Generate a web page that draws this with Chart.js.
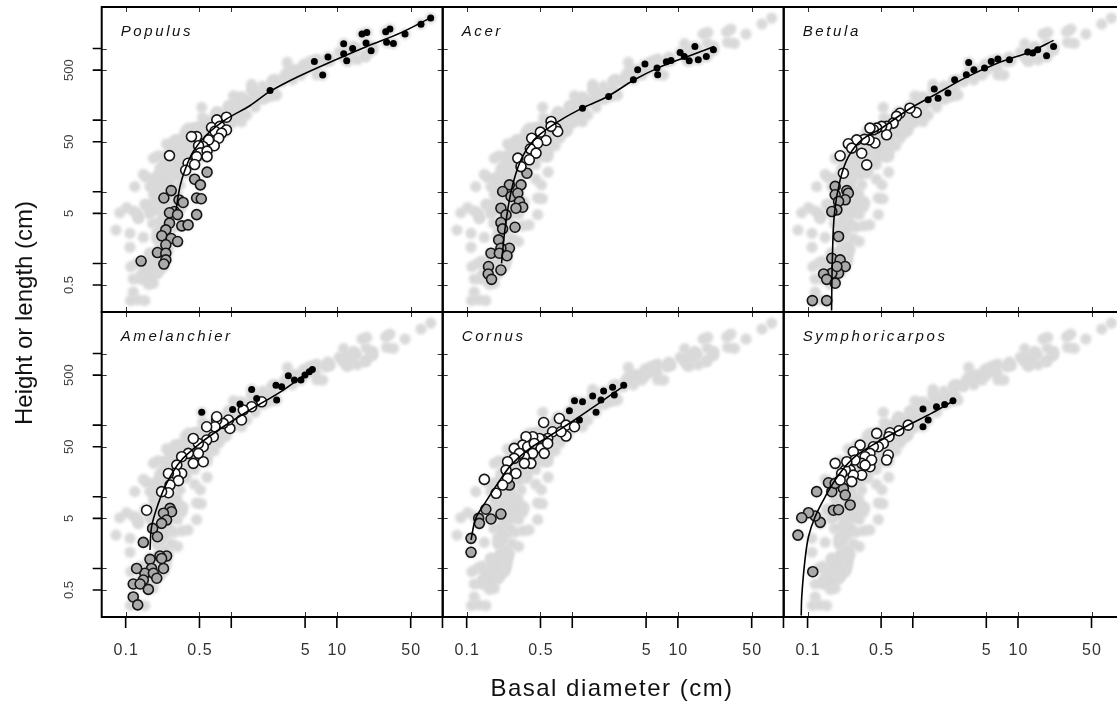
<!DOCTYPE html>
<html>
<head>
<meta charset="utf-8">
<script src="https://cdn.jsdelivr.net/npm/chart.js@4.4.1/dist/chart.umd.min.js"></script>
<style>
  html, body { margin: 0; padding: 0; background: #fff; }
  #wrap { position: relative; width: 1117px; height: 707px; overflow: hidden; }
  #wrap canvas { position: absolute; left: 0; top: 0; }
</style>
</head>
<body>
<div id="wrap"></div>
<script>
// axis ticks (log-log panels)
const xTicks = [0.1, 0.5, 1, 5, 10, 50, 100];
const xTickLabels = ["0.1", "0.5", "", "5", "10", "50", ""];
const yTicks = [0.5, 1, 5, 10, 50, 100, 500, 1000];
const yTickLabels = ["0.5", "", "5", "", "50", "", "500", ""];

const speciesNames = ["Populus", "Acer", "Betula", "Amelanchier", "Cornus", "Symphoricarpos"];

// [basal diameter cm, height cm]
const populusGrey = [[0.59,18.8],[0.45,15.0],[0.51,12.5],[0.47,8.2],[0.52,8.0],[0.47,4.8],[0.27,10.4],[0.23,8.2],[0.32,7.7],[0.35,7.1],[0.29,5.3],[0.26,5.1],[0.31,4.8],[0.26,3.65],[0.34,3.35],[0.39,3.45],[0.24,2.94],[0.22,2.43],[0.27,2.23],[0.31,2.02],[0.24,1.82],[0.20,1.42],[0.24,1.39],[0.24,1.12],[0.23,0.98],[0.14,1.08]];
const populusWhite = [[0.73,101],[0.90,110],[0.65,79],[0.78,82],[0.70,70],[0.90,73],[0.81,66],[0.76,56],[0.69,44],[0.61,53],[0.54,43],[0.47,59],[0.42,59],[0.49,44],[0.51,35],[0.59,37],[0.59,31],[0.47,31],[0.39,25],[0.37,20],[0.45,24],[0.26,32]];
const populusBlack = [[2.33,260],[6.12,661],[7.34,426],[8.24,760],[12.4,675],[11.6,845],[11.6,1170],[14.1,1005],[17.3,1590],[19.2,1680],[18.9,1190],[21.1,931],[29.0,1710],[31.8,1870],[29.6,1220],[34.3,1180],[44.2,1590],[62.6,2190],[77.3,2660]];
const populusFit = [[0.30,5.6],[0.327,11.9],[0.365,20.3],[0.437,36.6],[0.585,62.5],[0.904,104],[1.50,159],[2.33,252],[4.48,417],[9.26,675],[19.2,1070],[39.6,1640],[76,2660]];

const acerGrey = [[0.372,18.2],[0.254,12.5],[0.219,10.1],[0.327,12.5],[0.263,8.6],[0.305,9.57],[0.316,7.3],[0.339,6.1],[0.293,5.9],[0.211,5.9],[0.236,4.76],[0.211,3.72],[0.219,3.04],[0.287,3.2],[0.201,2.13],[0.254,1.63],[0.211,1.63],[0.170,1.39],[0.204,1.39],[0.241,1.28],[0.161,0.906],[0.160,0.714],[0.172,0.60],[0.211,0.81]];
const acerWhite = [[0.630,96],[0.702,77],[0.728,69.5],[0.630,82],[0.499,68],[0.564,52],[0.413,56],[0.470,47.7],[0.401,39.8],[0.454,34.7],[0.392,28],[0.305,29.5],[0.327,22.5]];
const acerBlack = [[1.25,147],[2.21,214],[3.79,366],[4.16,506],[4.88,606],[6.35,533],[6.44,430],[7.78,653],[8.61,682],[10.5,883],[11.5,776],[12.8,675],[14.5,1070],[15.6,697],[18.6,776],[21.7,962]];
const acerFit = [[0.214,1.0],[0.228,2.64],[0.254,7.73],[0.293,18.2],[0.352,34.6],[0.470,59.3],[0.782,101],[1.30,152],[2.16,214],[3.87,366],[6.44,533],[12.4,776],[22.1,1070]];

const betulaGrey = [[0.183,11.9],[0.236,10.4],[0.244,9.57],[0.228,7.73],[0.183,9.08],[0.197,7.33],[0.190,5.6],[0.170,5.3],[0.197,2.38],[0.170,1.18],[0.204,1.12],[0.228,0.906],[0.197,0.731],[0.170,0.731],[0.142,0.714],[0.152,0.60],[0.183,0.53],[0.190,0.906],[0.111,0.303],[0.152,0.303]];
const betulaWhite = [[1.08,128],[0.94,147],[0.755,125],[0.702,113],[0.651,91],[0.564,82],[0.564,62.5],[0.506,82],[0.454,77.5],[0.422,73.4],[0.392,77.5],[0.437,48],[0.384,53],[0.347,54],[0.293,53],[0.244,46.8],[0.263,40.7],[0.327,34.6],[0.365,23.8],[0.204,31.8],[0.219,18.2]];
const betulaBlack = [[1.40,193],[1.60,272],[1.74,203],[2.16,239],[2.50,366],[3.23,430],[3.40,640],[3.81,506],[4.81,533],[5.57,661],[6.44,713],[8.30,697],[12.4,891],[13.8,864],[15.4,962],[18.7,792],[21.8,1070]];
const betulaFit = [[0.169,0.22],[0.172,1.12],[0.180,5.0],[0.204,14.7],[0.244,30.8],[0.327,53],[0.506,77.5],[0.904,140],[1.62,226],[3.11,386],[6.44,626],[13.3,912],[21.8,1300]];

const amelGrey = [[0.263,6.9],[0.272,6.2],[0.228,5.9],[0.244,4.74],[0.219,4.26],[0.180,3.62],[0.200,2.77],[0.147,2.31],[0.244,1.49],[0.211,1.49],[0.170,1.34],[0.228,1.0],[0.176,1.0],[0.152,0.855],[0.127,1.0],[0.183,0.855],[0.147,0.69],[0.118,0.607],[0.137,0.607],[0.164,0.51],[0.197,0.73],[0.118,0.40],[0.130,0.31],[0.219,1.38]];
const amelWhite = [[1.94,212],[1.56,181],[1.25,118],[1.30,163],[0.97,90],[0.94,118],[0.84,106],[0.728,118],[0.702,95],[0.585,95],[0.728,131],[0.676,69],[0.585,62],[0.543,50],[0.488,55.6],[0.437,65.3],[0.437,29.3],[0.543,30.9],[0.488,40.4],[0.392,40.4],[0.339,36.3],[0.305,27.7],[0.339,21.2],[0.293,21.2],[0.254,21.2],[0.316,16.8],[0.263,14.6],[0.254,11.4],[0.219,11.8],[0.158,6.5]];
const amelBlack = [[0.525,151],[1.03,166],[1.21,197],[1.56,315],[1.74,236],[2.65,362],[2.69,224],[3.0,344],[3.47,489],[3.96,426],[4.57,426],[4.99,500],[5.49,557],[5.86,600]];
const amelFit = [[0.170,1.81],[0.176,3.83],[0.204,8.1],[0.244,15.4],[0.327,30.9],[0.506,55.6],[0.84,95],[1.50,163],[3.11,309],[5.98,620]];

const cornusGrey = [[0.152,6.7],[0.130,5.0],[0.132,4.26],[0.170,4.9],[0.211,5.75],[0.110,2.63],[0.110,1.68],[0.254,14.6]];
const cornusWhite = [[0.536,109],[0.755,124],[0.873,100],[1.05,95],[0.873,70.5],[0.651,81],[0.782,81],[0.585,65.3],[0.525,62],[0.488,65.3],[0.422,69],[0.365,69],[0.339,52.7],[0.378,50],[0.437,55.6],[0.506,47.4],[0.585,55.6],[0.543,40.4],[0.422,40.4],[0.352,36.3],[0.282,47.4],[0.316,40.4],[0.406,29.3],[0.352,29.3],[0.282,34.4],[0.244,30.9],[0.236,23.6],[0.293,21.2],[0.244,18.1],[0.219,14.6],[0.147,17.5],[0.190,11.2]];
const cornusBlack = [[1.05,219],[1.25,212],[1.56,255],[1.87,224],[1.98,299],[2.41,337],[2.50,263],[3.07,362],[0.94,159],[1.17,118],[1.68,151]];
const cornusFit = [[0.110,2.5],[0.122,5.0],[0.152,8.55],[0.197,15.4],[0.263,27.7],[0.378,44.9],[0.630,72.8],[1.05,118],[1.87,212],[3.07,351]];

const symGrey = [[0.122,11.8],[0.176,6.5],[0.197,6.6],[0.254,7.7],[0.132,4.4],[0.118,5.4],[0.102,6.0],[0.088,5.1],[0.081,2.92],[0.112,0.90],[0.158,15.7],[0.170,11.8],[0.219,13.1],[0.228,10.6],[0.183,15.4]];
const symWhite = [[0.904,100],[0.738,83.6],[0.607,78.4],[0.593,69],[0.525,55.6],[0.454,76.7],[0.470,50],[0.585,38.3],[0.564,32.6],[0.422,50],[0.392,40.4],[0.352,36.3],[0.327,29.3],[0.316,52.7],[0.272,42.6],[0.282,32.6],[0.254,23.6],[0.327,20.1],[0.392,26.3],[0.406,32.6],[0.352,27.7],[0.272,20.1],[0.263,16.3],[0.228,23.6],[0.236,30.9],[0.211,21.2],[0.183,29.3],[0.204,17.1]];
const symBlack = [[1.25,168],[1.40,118],[1.25,95],[1.68,181],[2.01,195],[2.41,219]];
const symFit = [[0.087,0.22],[0.088,0.40],[0.0937,1.18],[0.102,2.77],[0.118,5.27],[0.147,10.0],[0.197,20.1],[0.282,36.3],[0.470,58.7],[0.904,100],[1.50,146],[2.50,224]];

const species = [
    { grey: populusGrey, white: populusWhite, black: populusBlack, fit: populusFit },
    { grey: acerGrey, white: acerWhite, black: acerBlack, fit: acerFit },
    { grey: betulaGrey, white: betulaWhite, black: betulaBlack, fit: betulaFit },
    { grey: amelGrey, white: amelWhite, black: amelBlack, fit: amelFit },
    { grey: cornusGrey, white: cornusWhite, black: cornusBlack, fit: cornusFit },
    { grey: symGrey, white: symWhite, black: symBlack, fit: symFit }
];

// pooled data of all six genera, shown in light grey behind every panel
const pooled = species.flatMap(s => [...s.grey, ...s.white, ...s.black]);

const pts = arr => arr.map(p => ({ x: p[0], y: p[1] }));

// panel geometry
const CW = 1130, CH = 707;
const colLeft = [101.7, 442.7, 783.7];
const rowTop = [7, 312];
const panelW = 341, panelH = 305;
const FONT = '"Liberation Sans", Arial, Helvetica, sans-serif';

// soft look for the pooled cloud
const softCloud = {
    id: "softCloud",
    beforeDatasetDraw(chart, args) {
        if (args.index === 0) chart.ctx.filter = "blur(1.6px)";
    },
    afterDatasetDraw(chart, args) {
        if (args.index === 0) chart.ctx.filter = "none";
    }
};

const panelFrame = {
    id: "panelFrame",
    afterDatasetsDraw(chart, args, opts) {
        const { ctx, chartArea: a } = chart;
        const x = chart.scales.x, y = chart.scales.y;
        ctx.save();

        // short inward ticks on all four sides
        ctx.strokeStyle = "#333";
        ctx.lineWidth = 1;
        ctx.beginPath();
        xTicks.forEach(v => {
            const px = Math.round(x.getPixelForValue(v)) + 0.5;
            ctx.moveTo(px, a.top); ctx.lineTo(px, a.top + 5);
            ctx.moveTo(px, a.bottom); ctx.lineTo(px, a.bottom - 5);
        });
        yTicks.forEach(v => {
            const py = Math.round(y.getPixelForValue(v)) + 0.5;
            ctx.moveTo(a.left, py); ctx.lineTo(a.left + 5, py);
            ctx.moveTo(a.right, py); ctx.lineTo(a.right - 5, py);
        });
        ctx.stroke();

        // outer ticks and labels
        ctx.strokeStyle = "#000";
        ctx.lineWidth = 1.6;
        if (opts.leftAxis) {
            ctx.beginPath();
            yTicks.forEach(v => {
                const py = y.getPixelForValue(v);
                ctx.moveTo(a.left, py); ctx.lineTo(a.left - 9, py);
            });
            ctx.stroke();
            ctx.fillStyle = "#444";
            ctx.font = "13px " + FONT;
            ctx.textAlign = "center";
            ctx.textBaseline = "middle";
            yTicks.forEach((v, i) => {
                if (!yTickLabels[i]) return;
                ctx.save();
                ctx.translate(69, y.getPixelForValue(v));
                ctx.rotate(-Math.PI / 2);
                ctx.fillText(yTickLabels[i], 0, 0);
                ctx.restore();
            });
        }
        if (opts.bottomAxis) {
            ctx.beginPath();
            xTicks.forEach(v => {
                const px = x.getPixelForValue(v);
                ctx.moveTo(px, a.bottom); ctx.lineTo(px, a.bottom + 11);
            });
            ctx.stroke();
            ctx.fillStyle = "#333";
            ctx.font = "16px " + FONT;
            ctx.letterSpacing = "1px";
            ctx.textAlign = "center";
            ctx.textBaseline = "middle";
            xTicks.forEach((v, i) => {
                if (!xTickLabels[i]) return;
                ctx.fillText(xTickLabels[i], x.getPixelForValue(v) + 0.5, 651);
            });
            ctx.letterSpacing = "0px";
        }

        // frame
        ctx.strokeStyle = "#000";
        ctx.lineWidth = 2;
        ctx.strokeRect(a.left, a.top, a.right - a.left, a.bottom - a.top);

        // genus name
        ctx.fillStyle = "#111";
        ctx.font = "italic 15px " + FONT;
        ctx.letterSpacing = "2.6px";
        ctx.textAlign = "left";
        ctx.textBaseline = "alphabetic";
        ctx.fillText(opts.name, a.left + 19, a.top + 29);
        ctx.letterSpacing = "0px";

        if (opts.titles) {
            ctx.fillStyle = "#111";
            ctx.font = "24px " + FONT;
            ctx.textAlign = "center";
            ctx.textBaseline = "middle";
            ctx.letterSpacing = "1.5px";
            ctx.fillText("Basal diameter (cm)", 612, 689);
            ctx.letterSpacing = "0px";
            ctx.translate(25, 313);
            ctx.rotate(-Math.PI / 2);
            ctx.fillText("Height or length (cm)", 0, 0);
        }
        ctx.restore();
    }
};

const wrap = document.getElementById("wrap");

species.forEach((sp, i) => {
    const col = i % 3, row = Math.floor(i / 3);
    const canvas = document.createElement("canvas");
    canvas.width = CW;
    canvas.height = CH;
    canvas.style.width = CW + "px";
    canvas.style.height = CH + "px";
    wrap.appendChild(canvas);

    const left = colLeft[col], top = rowTop[row];
    const circle = {
        pointRadius: 5,
        borderColor: "#151515",
        borderWidth: 1.6,
        clip: 0
    };

    new Chart(canvas.getContext("2d"), {
        type: "scatter",
        data: {
            datasets: [
                { data: pts(pooled), pointRadius: 5.6, backgroundColor: "#d9d9d9", borderWidth: 0, order: 5, clip: 0 },
                { ...circle, data: pts(sp.grey), backgroundColor: "#a9a9a9", order: 4 },
                { ...circle, data: pts(sp.white), backgroundColor: "#ffffff", order: 3 },
                { data: pts(sp.black), pointRadius: 3.5, backgroundColor: "#000", borderWidth: 0, order: 2, clip: 0 },
                { data: pts(sp.fit), showLine: true, pointRadius: 0, borderColor: "#000", borderWidth: 1.6, tension: 0.35, order: 1, clip: 0 }
            ]
        },
        options: {
            responsive: false,
            animation: false,
            events: [],
            layout: {
                padding: { left: left, top: top, right: CW - left - panelW, bottom: CH - top - panelH }
            },
            scales: {
                x: { type: "logarithmic", min: 0.0593, max: 100.5, display: false },
                y: { type: "logarithmic", min: 0.21, max: 3800, display: false }
            },
            plugins: {
                legend: { display: false },
                tooltip: { enabled: false },
                panelFrame: {
                    name: speciesNames[i],
                    leftAxis: col === 0,
                    bottomAxis: row === 1,
                    titles: i === 0
                }
            }
        },
        plugins: [softCloud, panelFrame]
    });
});
</script>
</body>
</html>
